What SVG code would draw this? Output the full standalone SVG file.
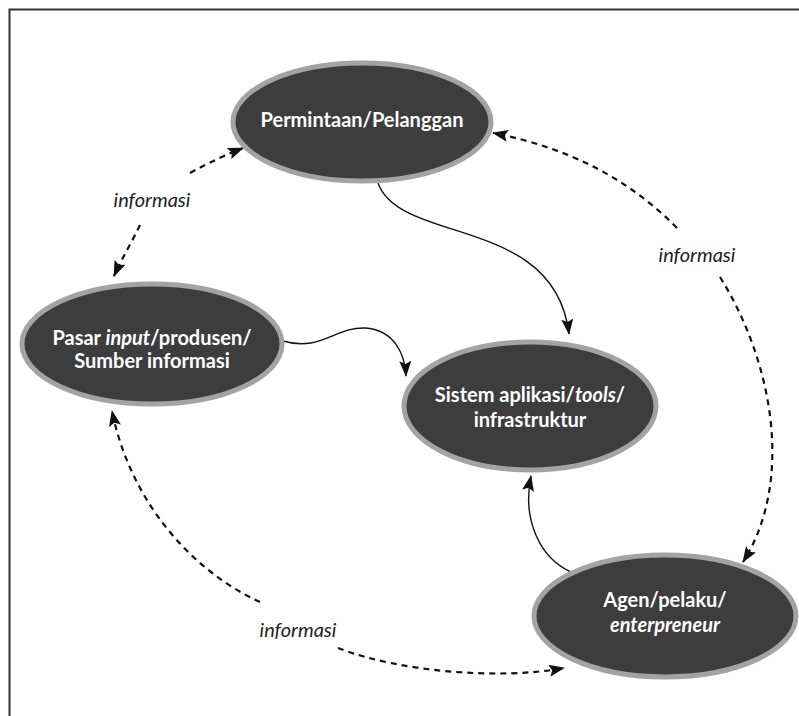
<svg xmlns="http://www.w3.org/2000/svg" width="799" height="716" viewBox="0 0 799 716">
<defs>
<style>
.node{fill:#3d3d3d;stroke:#a3a3a3;stroke-width:5}
.nt{fill:#ffffff;font-family:Lato,"Open Sans",sans-serif;font-weight:bold;font-size:20px;text-anchor:middle}
.lbl{fill:#222;font-family:Lato,"Open Sans",sans-serif;font-style:italic;font-size:20px;text-anchor:middle}
.solid{fill:none;stroke:#111;stroke-width:1.4}
.dash{fill:none;stroke:#111;stroke-width:2.2;stroke-dasharray:6 5}
</style>
<marker id="ah" markerWidth="16" markerHeight="12" refX="15" refY="6" orient="auto" markerUnits="userSpaceOnUse">
<path d="M0,0 L16,6 L0,12 L3,6 Z" fill="#111"/>
</marker>
</defs>
<rect width="799" height="716" fill="#fff"/>
<path d="M9.5,716 V9.5 H799" fill="none" stroke="#333" stroke-width="2"/>
<g id="connectors">
<path class="solid" d="M378,183 C400,245 555,215 569,334" marker-end="url(#ah)"/>
<path class="solid" d="M283,341 C320,352 335,327 365,328 C395,330 405,355 406,376" marker-end="url(#ah)"/>
<path class="solid" d="M571,572 C540,558 522,520 531,476" marker-end="url(#ah)"/>
<path class="dash" d="M190,173 C210,162 228,154 243,148" marker-end="url(#ah)"/>
<path class="dash" d="M140,225 C132,242 122,258 114,276" marker-end="url(#ah)"/>
<path class="dash" d="M677,228 C630,180 570,148 493,133" marker-end="url(#ah)"/>
<path class="dash" d="M720,277 C772,360 795,480 743,562" marker-end="url(#ah)"/>
<path class="dash" d="M260,602 C190,570 130,500 112,411" marker-end="url(#ah)"/>
<path class="dash" d="M338,648 C400,672 500,680 564,668" marker-end="url(#ah)"/>
</g>
<g id="lbl1"><text class="lbl" x="152" y="207">informasi</text></g>
<g id="lbl2"><text class="lbl" x="697" y="262">informasi</text></g>
<g id="lbl3"><text class="lbl" x="298" y="637">informasi</text></g>
<g id="node-permintaan">
<ellipse class="node" cx="362" cy="122" rx="129" ry="59"/>
<text class="nt" x="362" y="127">Permintaan/Pelanggan</text>
</g>
<g id="node-pasar">
<ellipse class="node" cx="152" cy="344" rx="130" ry="60"/>
<text class="nt" x="152" y="345">Pasar <tspan font-style="italic">input</tspan>/produsen/</text>
<text class="nt" x="152" y="368">Sumber informasi</text>
</g>
<g id="node-sistem">
<ellipse class="node" cx="530" cy="406" rx="126" ry="64"/>
<text class="nt" x="530" y="402">Sistem aplikasi/<tspan font-style="italic">tools</tspan>/</text>
<text class="nt" x="530" y="427">infrastruktur</text>
</g>
<g id="node-agen">
<ellipse class="node" cx="665" cy="616" rx="131" ry="61"/>
<text class="nt" x="665" y="607">Agen/pelaku/</text>
<text class="nt" x="665" y="632" font-weight="normal" font-style="italic">enterpreneur</text>
</g>
</svg>
